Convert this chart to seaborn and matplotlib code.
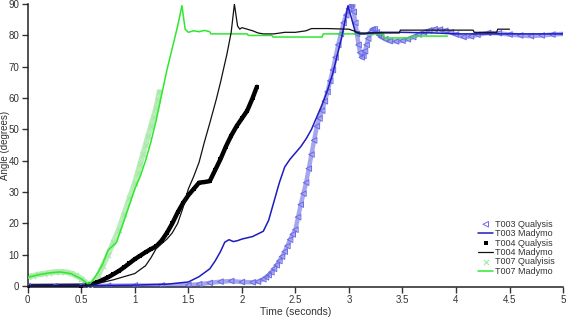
import pandas as pd
import matplotlib.pyplot as plt
import seaborn as sns

# --- data ---
t003_q_t = [0, 0.25, 0.5, 0.75, 1.0, 1.25, 1.5, 1.6, 1.7, 1.8, 1.9, 2.0, 2.1, 2.15, 2.2, 2.225,
            2.25, 2.275, 2.3, 2.325, 2.35, 2.375, 2.4, 2.425, 2.45, 2.475, 2.5, 2.525,
            2.55, 2.575, 2.6, 2.625, 2.65, 2.675, 2.7, 2.725, 2.75, 2.775, 2.8, 2.825,
            2.85, 2.875, 2.9, 2.925, 2.95, 2.975, 3.0, 3.015, 3.03, 3.045, 3.06, 3.075,
            3.09, 3.105, 3.12, 3.135, 3.15, 3.165, 3.18, 3.2, 3.22, 3.24, 3.26, 3.28,
            3.3, 3.34, 3.38, 3.44, 3.5, 3.55, 3.6, 3.65, 3.7, 3.75, 3.8, 3.85, 3.9,
            3.95, 4.0, 4.07, 4.14, 4.2, 4.3, 4.4, 4.5, 4.6, 4.7, 4.8, 4.9, 5.0]
t003_q_y = [0, 0, 0.1, 0.1, 0.2, 0.2, 0.3, 0.6, 1.0, 1.4, 1.6, 1.3, 1.2, 1.4, 2.2, 2.8,
            3.5, 4.4, 5.5, 6.7, 8, 9.4, 11, 12.8, 14.8, 16.5, 18, 22,
            26, 29.5, 33, 37.5, 42, 46.5, 51, 53.5, 56, 59, 62, 65.5,
            69, 73, 77, 80.5, 84, 86.5, 88.5, 89.4, 90, 87.5, 84, 80.5,
            77, 74.5, 73, 73.5, 75, 77, 79, 81, 82, 82, 81, 80.2,
            79.5, 78.8, 78.2, 78.1, 78.3, 78.8, 79.5, 80.3, 81, 81.6, 82, 81.9, 81.5,
            81, 80.3, 79.5, 79.7, 80.2, 80.8, 80.7, 80.3, 80, 79.8, 80, 80.3, 80.5]

t003_m_t = [0, 0.5, 1.0, 1.3, 1.5, 1.6, 1.7, 1.75, 1.8, 1.84, 1.88, 1.92, 1.96, 2.0, 2.1,
            2.2, 2.25, 2.3, 2.35, 2.4, 2.45, 2.5, 2.55, 2.6, 2.65, 2.7, 2.75, 2.8, 2.85,
            2.9, 2.93, 2.96, 2.99, 3.02, 3.06, 3.1, 3.15, 3.2, 3.3, 3.5, 3.8, 4.0, 4.5, 5.0]
t003_m_y = [0, 0.1, 0.3, 0.6, 1.3, 3, 5.5, 8, 11, 14, 14.8, 14.2, 14.5, 15, 15.8,
            17.5, 21, 27, 33, 38, 40.5, 42.5, 44.5, 47, 50, 54, 58, 62.5, 68,
            75, 79, 84, 89.4, 86, 81, 80.5, 80.5, 80.8, 81, 81, 80.8, 80.5, 80.5, 80.5]

t004_q_t = [0, 0.5, 0.55, 0.6, 0.65, 0.7, 0.75, 0.8, 0.85, 0.9, 0.95, 1.0, 1.05, 1.1, 1.15,
            1.2, 1.25, 1.3, 1.35, 1.4, 1.45, 1.5, 1.55, 1.6, 1.65, 1.7, 1.75, 1.8, 1.85,
            1.9, 1.95, 2.0, 2.05, 2.1, 2.14]
t004_q_y = [0, 0.1, 0.2, 0.6, 1.2, 2, 2.8, 3.8, 4.8, 6, 7.3, 8.6, 9.7, 10.8, 11.8,
            12.7, 14.5, 17, 20, 23.5, 26.5, 29, 31, 33, 33.2, 33.5, 37, 40.5, 44.5,
            48, 51, 53.5, 56, 60, 63.6]

t004_m_t = [0, 0.5, 0.6, 0.7, 0.8, 0.9, 1.0, 1.1, 1.15, 1.2, 1.25, 1.3, 1.35, 1.4, 1.45,
            1.5, 1.55, 1.6, 1.65, 1.7, 1.76, 1.8, 1.86, 1.9, 1.93, 1.96, 1.98, 2.0, 2.05,
            2.1, 2.15, 2.2, 2.3, 2.4, 2.5, 2.6, 2.65, 2.8, 3.0, 3.1, 3.47, 3.48, 4.16,
            4.17, 4.38, 4.39, 4.5]
t004_m_y = [0, 0, 0.5, 1.2, 2, 3, 4, 6.5, 9, 12, 13.5, 15, 17, 20, 25,
            31, 35, 39.5, 46, 52, 59.5, 65, 74, 81, 90, 83, 82, 82.5, 82,
            81.5, 80.8, 80.5, 80.5, 81, 81, 81.5, 82.2, 82.2, 82, 80.8, 80.8, 81.7, 81.7,
            81, 81, 82, 82]

t007_q_t = [0, 0.05, 0.1, 0.15, 0.2, 0.25, 0.3, 0.35, 0.4, 0.45, 0.5, 0.55, 0.58, 0.62,
            0.66, 0.7, 0.75, 0.8, 0.85, 0.9, 0.95, 1.0, 1.025, 1.05, 1.075, 1.1, 1.125,
            1.15, 1.175, 1.2, 1.215, 1.23]
t007_q_y = [3, 3.3, 3.7, 4.0, 4.3, 4.5, 4.6, 4.5, 4.1, 3.4, 2.4, 1.0, 0.3, 1.5,
            3.5, 6.5, 10, 14, 18, 23, 28, 33, 36, 39, 42, 45, 48,
            51, 54, 57, 59.5, 62]

t007_m_t = [0, 0.1, 0.2, 0.3, 0.4, 0.5, 0.57, 0.6, 0.65, 0.7, 0.75, 0.8, 0.83, 0.9, 0.95,
            1.0, 1.05, 1.1, 1.15, 1.2, 1.25, 1.3, 1.35, 1.4, 1.44, 1.47, 1.5, 1.55,
            1.6, 1.65, 1.7, 1.71, 2.05, 2.06, 2.28, 2.29, 2.75, 2.76, 3.32, 3.33,
            3.58, 3.59, 3.92]
t007_m_y = [2.8, 3.6, 4.2, 4.5, 4.0, 2.3, 0.5, 1.5, 4, 7, 11.5, 13, 14, 21, 26,
            31, 35, 40, 46, 53, 61, 69, 76, 83, 89.5, 82, 81, 81.5,
            81.2, 81.6, 81.2, 80.5, 80.5, 80, 80, 79.5, 79.5, 80.5, 80.5, 79.2,
            79.2, 79.8, 79.8]

x_ticks = [0, 0.5, 1, 1.5, 2, 2.5, 3, 3.5, 4, 4.5, 5]
x_tick_labels = ['0', '0.5', '1', '1.5', '2', '2.5', '3', '3.5', '4', '4.5', '5']
y_ticks = [0, 10, 20, 30, 40, 50, 60, 70, 80, 90]

sns.set_style('white')
plt.rcParams['font.family'] = ['Liberation Sans', 'DejaVu Sans']

fig, ax = plt.subplots(figsize=(5.67, 3.18), dpi=100)
fig.subplots_adjust(left=0.049, right=0.993, bottom=0.0975, top=0.987)

blue_q = '#6a6ae6'
blue_band = '#3a3ad8'
blue_m = '#1c1cc0'
green_q = '#a6e8a6'
green_m = '#2ee82e'

# T007 (green)
sns.lineplot(x=t007_q_t, y=t007_q_y, color=green_q, linewidth=4, alpha=0.8, ax=ax)
sns.scatterplot(x=t007_q_t, y=t007_q_y, marker='x', color=green_q, s=14,
                linewidth=0.8, label='T007 Qualyisis', ax=ax, zorder=3)
sns.lineplot(x=t007_m_t, y=t007_m_y, color=green_m, linewidth=1.1,
             label='T007 Madymo', ax=ax, zorder=4)

# T004 (black)
sns.lineplot(x=t004_q_t, y=t004_q_y, color='black', linewidth=3.2, ax=ax, zorder=3)
sns.scatterplot(x=t004_q_t, y=t004_q_y, marker='s', color='black', s=6,
                linewidth=0, label='T004 Qualysis', ax=ax, zorder=3)
sns.lineplot(x=t004_m_t, y=t004_m_y, color='#111111', linewidth=0.9,
             label='T004 Madymo', ax=ax, zorder=5)

# T003 (blue)
sns.lineplot(x=t003_q_t, y=t003_q_y, color=blue_band, linewidth=3.2, alpha=0.45,
             ax=ax, zorder=3)
sns.scatterplot(x=t003_q_t, y=t003_q_y, marker='<', facecolor='none',
                edgecolor=blue_q, s=16, linewidth=0.7, label='T003 Qualysis',
                ax=ax, zorder=3)
sns.lineplot(x=t003_m_t, y=t003_m_y, color=blue_m, linewidth=1.1,
             label='T003 Madymo', ax=ax, zorder=4)

ax.set_xlim(0, 5)
ax.set_ylim(-0.3, 90)
ax.set_xticks(x_ticks)
ax.set_xticklabels(x_tick_labels)
ax.set_yticks(y_ticks)
ax.tick_params(axis='both', direction='out', length=4, width=1, labelsize=7,
               colors='#333333', pad=2, left=True, bottom=True)
ax.set_xlabel('Time (seconds)', fontsize=7.5, labelpad=1, color='#333333')
ax.set_ylabel('Angle (degrees)', fontsize=7, color='#333333')
ax.yaxis.set_label_coords(-0.033, 0.5)
sns.despine(ax=ax)
for s in ['left', 'bottom']:
    ax.spines[s].set_color('#222222')
    ax.spines[s].set_linewidth(1.1)

order = ['T003 Qualysis', 'T003 Madymo', 'T004 Qualysis', 'T004 Madymo',
         'T007 Qualyisis', 'T007 Madymo']
handles, labels = ax.get_legend_handles_labels()
hmap = dict(zip(labels, handles))
ax.legend([hmap[l] for l in order], order, loc='lower right',
          bbox_to_anchor=(0.995, 0.02), frameon=False, fontsize=6.5,
          handlelength=1.7, handletextpad=0.2, labelspacing=0.05,
          borderaxespad=0.2, labelcolor='#333333')

plt.savefig('out.png', dpi=100)
